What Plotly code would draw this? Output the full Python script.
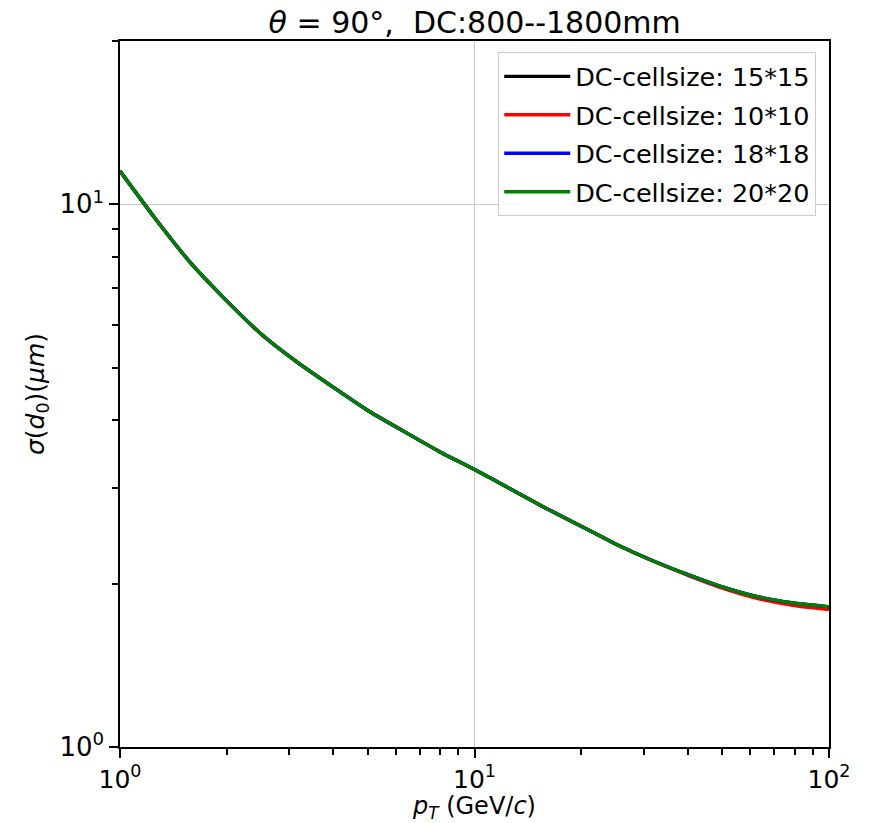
import plotly.graph_objects as go

# Data
pt = [1.0, 1.26, 1.58, 2.0, 2.5, 3.16, 4.0, 5.0, 6.3, 7.9, 10.0,
      12.6, 15.8, 20.0, 25.0, 31.6, 40.0, 50.0, 63.0, 79.0, 100.0]
sigma_15 = [11.52, 9.40, 7.81, 6.64, 5.77, 5.12, 4.60, 4.17, 3.82, 3.513, 3.245,
            2.992, 2.761, 2.552, 2.367, 2.209, 2.078, 1.972, 1.890, 1.842, 1.811]
sigma_10 = [11.52, 9.40, 7.81, 6.64, 5.77, 5.12, 4.60, 4.17, 3.82, 3.513, 3.245,
            2.992, 2.761, 2.552, 2.366, 2.206, 2.072, 1.963, 1.878, 1.824, 1.791]
sigma_18 = [11.52, 9.40, 7.81, 6.64, 5.77, 5.12, 4.60, 4.17, 3.82, 3.513, 3.245,
            2.992, 2.761, 2.552, 2.367, 2.209, 2.078, 1.972, 1.891, 1.843, 1.812]
sigma_20 = [11.52, 9.40, 7.81, 6.64, 5.77, 5.12, 4.60, 4.17, 3.82, 3.513, 3.245,
            2.992, 2.761, 2.552, 2.367, 2.209, 2.079, 1.973, 1.892, 1.844, 1.813]

series_names = ["DC-cellsize: 15*15", "DC-cellsize: 10*10", "DC-cellsize: 18*18", "DC-cellsize: 20*20"]
series_values = [sigma_15, sigma_10, sigma_18, sigma_20]
series_colors = ["#000000", "#ff0000", "#0000ff", "#008000"]

x_major = [1, 10, 100]
x_major_text = ["10<sup>0</sup>", "10<sup>1</sup>", "10<sup>2</sup>"]
x_minor = [2, 3, 4, 5, 6, 7, 8, 9, 20, 30, 40, 50, 60, 70, 80, 90]
y_major = [1, 10]
y_major_text = ["10<sup>0</sup>", "10<sup>1</sup>"]
y_minor = [2, 3, 4, 5, 6, 7, 8, 9, 20]

FONT = "DejaVu Sans"

fig = go.Figure()
for i, (name, vals, col) in enumerate(zip(series_names, series_values, series_colors)):
    fig.add_trace(go.Scatter(
        x=pt, y=vals, mode="lines", name=name, legendgroup=f"g{i}",
        line=dict(color=col, width=3.4, shape="spline", smoothing=0.6),
    ))

fig.update_layout(
    width=871, height=823,
    margin=dict(l=120, r=42, t=41, b=76, autoexpand=False),
    paper_bgcolor="white", plot_bgcolor="white",
    font=dict(family=FONT, size=25, color="black"),
    title=dict(text="<i>θ</i> = 90°,  DC:800--1800mm", x=0.545, xanchor="center",
               y=0.973, yanchor="middle", font=dict(size=30)),
    legend=dict(x=0.982, y=0.984, xanchor="right", yanchor="top",
                bgcolor="rgba(255,255,255,0.85)", bordercolor="#cccccc", borderwidth=1,
                font=dict(size=25.5), itemwidth=66, tracegroupgap=2.3),
    showlegend=True,
)

fig.update_xaxes(
    type="log", range=[0, 2],
    tickmode="array", tickvals=x_major, ticktext=x_major_text,
    ticks="outside", ticklen=9, tickwidth=2, tickcolor="black",
    showline=True, linecolor="black", linewidth=1.5, mirror=True,
    showgrid=True, gridcolor="#c8c8c8", gridwidth=1, zeroline=False,
    minor=dict(tickmode="array", tickvals=x_minor, ticks="outside", ticklen=6,
               tickwidth=1.5, tickcolor="black", showgrid=False),
    title=dict(text="<i>p</i><sub><i>T</i></sub> (GeV/<i>c</i>)", font=dict(size=24)),
    tickfont=dict(size=25),
)
fig.update_yaxes(
    type="log", range=[0, 1.30103],
    tickmode="array", tickvals=y_major, ticktext=y_major_text,
    ticks="outside", ticklen=9, tickwidth=2, tickcolor="black",
    showline=True, linecolor="black", linewidth=1.5, mirror=True,
    showgrid=True, gridcolor="#c8c8c8", gridwidth=1, zeroline=False,
    minor=dict(tickmode="array", tickvals=y_minor, ticks="outside", ticklen=6,
               tickwidth=1.5, tickcolor="black", showgrid=False),
    title=dict(text="<i>σ</i>(<i>d</i><sub>0</sub>)(<i>μm</i>)", standoff=8,
               font=dict(size=25)),
    tickfont=dict(size=26),
)

fig.write_html("out.html")
